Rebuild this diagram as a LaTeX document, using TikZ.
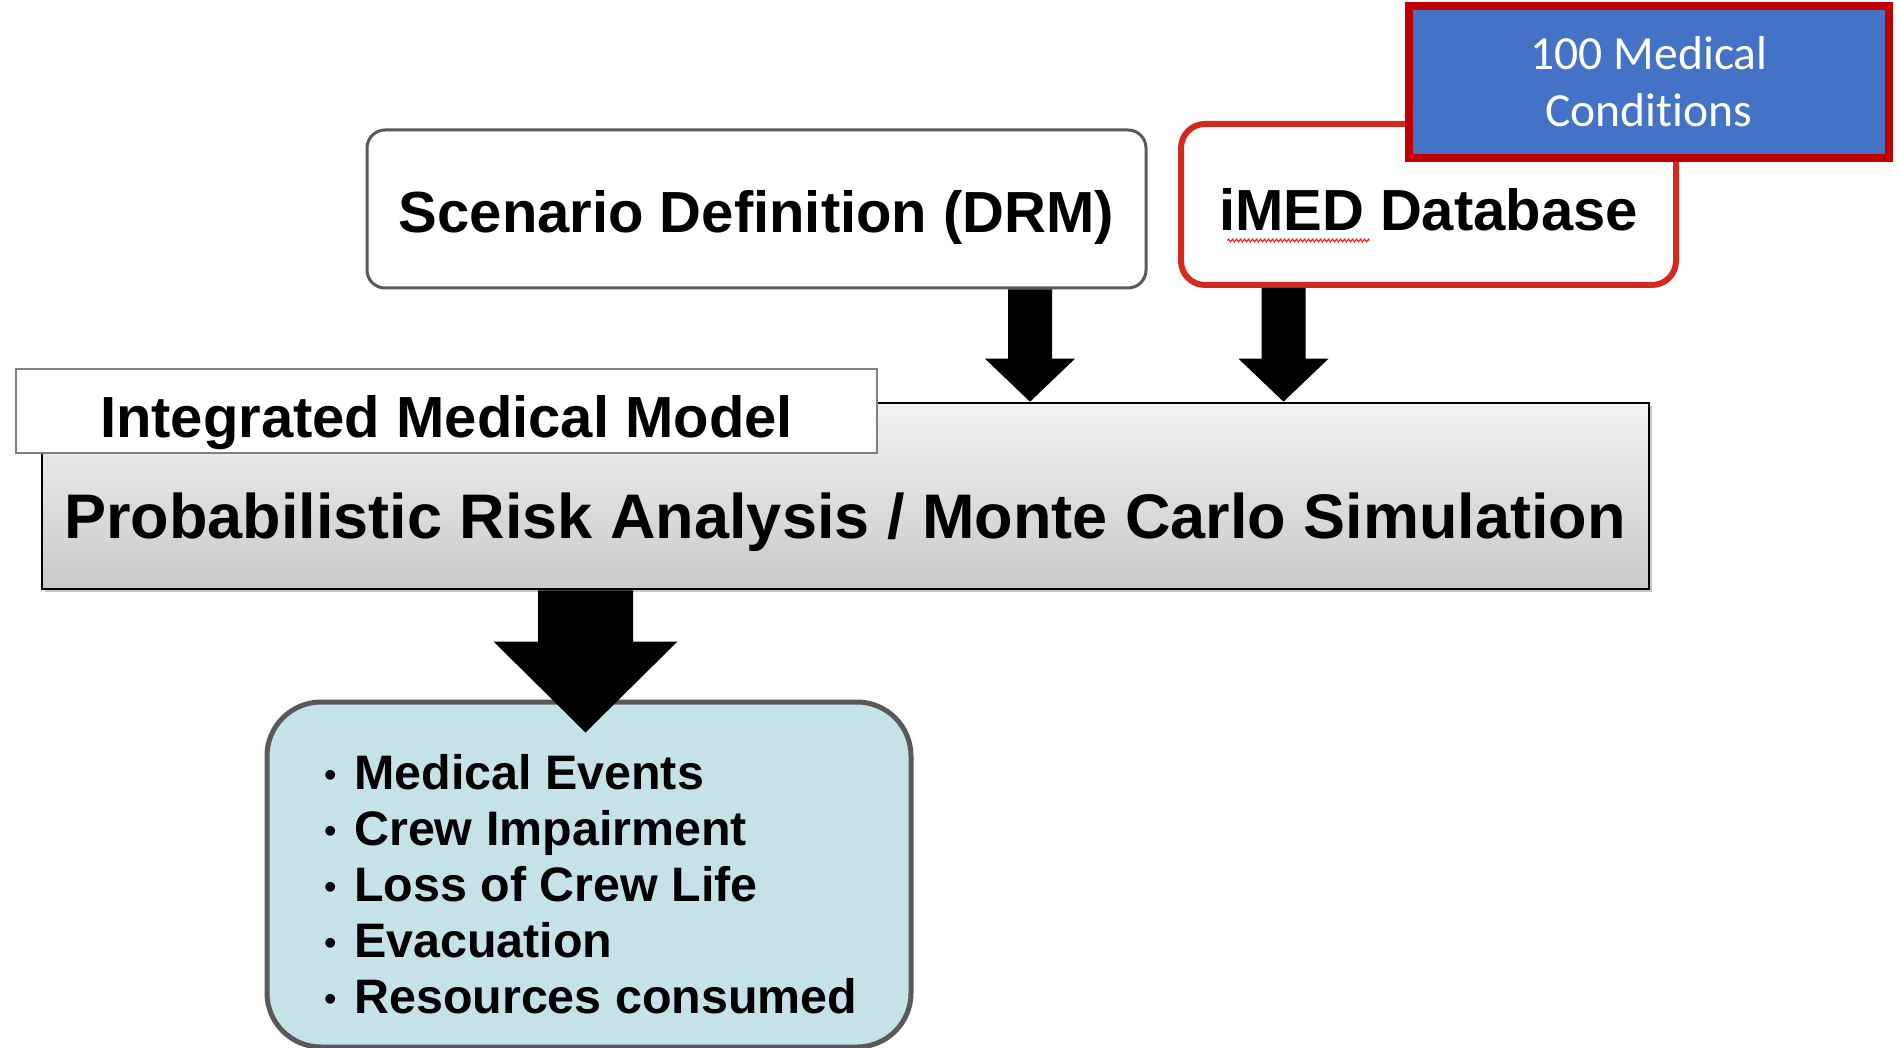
\documentclass[tikz,border=0pt]{standalone}
\usepackage{fontspec}
\setmainfont{Liberation Sans}
\newfontfamily\carlito{Carlito}[Ligatures=NoCommon]
\usetikzlibrary{positioning, calc, shadows, decorations.pathmorphing}
\definecolor{condblue}{HTML}{4472C4}
\definecolor{darkred}{HTML}{C00000}
\definecolor{imedred}{HTML}{D42A1E}
\definecolor{outfill}{HTML}{C5E3E6}
\definecolor{boxgray}{HTML}{595959}
\tikzset{
    block/.style={
        draw = boxgray, line width = 1.5pt,
        rounded corners = 9pt, fill = white,
        align = center, text height = 24pt, text depth = 0pt,
        font = \fontsize{29}{34}\selectfont\bfseries
    },
    redblock/.style = {block, draw = imedred, line width = 3pt, rounded corners = 12pt, text height = 26pt},
    bluebox/.style = {
        draw = darkred, line width = 4pt, fill = condblue,
        text = white, align = center,
        font = \carlito\fontsize{23.8}{28.5}\selectfont
    },
    simbox/.style = {
        draw = black, line width = 1.3pt,
        top color = black!5, bottom color = black!21,
        drop shadow = {shadow xshift = 1.5pt, shadow yshift = -1.5pt, fill = black!45, opacity = 0.5}
    },
    labelbox/.style = {draw = black!50, line width = 1pt, fill = white,
        text height = 26pt, text depth = 0pt,
        font = \fontsize{29}{34}\selectfont\bfseries},
    outbox/.style = {draw = boxgray, line width = 2.5pt, rounded corners = 27pt, fill = outfill},
    spell/.style = {draw = red, line width = 0.5pt, decorate,
        decoration = {zigzag, amplitude = 0.7pt, segment length = 2pt}}
}
% small list bullet
\newcommand{\itm}{\raisebox{1.5pt}{\fontsize{17}{17}\selectfont•}\hspace{9pt}}
% big filled arrow: start, tip, half shaft, half head, head length
\newcommand{\blockarrow}[5]{%
    \fill let \p1 = #1, \p2 = #2 in
        (\x1-#3, \y1) -- (\x1+#3, \y1) -- (\x1+#3, \y2+#5) -- (\x1+#4, \y2+#5)
        -- (\x2, \y2) -- (\x1-#4, \y2+#5) -- (\x1-#3, \y2+#5) -- cycle;}

\begin{document}
\begin{tikzpicture}[x=0.5pt, y=-0.5pt]

    \useasboundingbox (0,0) rectangle (1900,1048);

    % Output box (arrow drawn over it later)
    \node[outbox, minimum width = 322pt, minimum height = 172.5pt] (out) at (589,874.5) {};
    \node[anchor = north west, inner sep = 0pt, align = left,
          font = \fontsize{24.2}{28}\selectfont\bfseries] (items) at (324,754)
        {\itm Medical Events\\ \itm Crew Impairment\\ \itm Loss of Crew Life\\ \itm Evacuation\\ \itm Resources consumed};

    % Blocks
    \node[block, minimum width = 389.5pt, minimum height = 79pt] (scen) at (756.5,209) {Scenario Definition (DRM)};
    \node[redblock, minimum width = 247.5pt, minimum height = 80.5pt] (imed) at (1428.5,204.5) {iMED Database};
    \draw[spell] ($(imed.center)+(-201,36)$) -- ($(imed.center)+(-59,36)$);
    \node[bluebox, minimum width = 240pt, minimum height = 76pt] (cond) at (1649,82) {100 Medical\\ Conditions};

    % Simulation box
    \node[simbox, minimum width = 803.5pt, minimum height = 93pt] (pra) at (845.5,496) {};
    \node[font = \fontsize{31.5}{36}\selectfont\bfseries] (pratext) at (845,522)
        {Probabilistic Risk Analysis / Monte Carlo Simulation};
    \node[labelbox, minimum width = 430.5pt, minimum height = 42pt] (imm) at (446.5,411) {Integrated Medical Model};

    % Arrows
    \coordinate (a1) at (1030,0);
    \coordinate (a2) at (1283.5,0);
    \coordinate (a3) at (585.5,0);
    \blockarrow{(scen.south -| a1)}{(pra.north -| a1)}{11pt}{22.5pt}{21.5pt}
    \blockarrow{(imed.south -| a2)}{(pra.north -| a2)}{11pt}{22.5pt}{21.5pt}
    \blockarrow{(pra.south -| a3)}{($(out.north -| a3)+(0,33)$)}{23.75pt}{46pt}{45.5pt}

\end{tikzpicture}
\end{document}
